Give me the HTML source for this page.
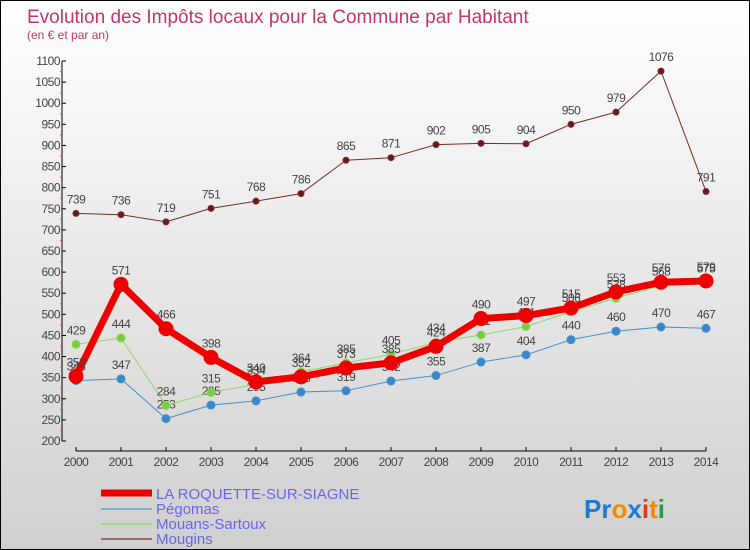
<!DOCTYPE html>
<html><head><meta charset="utf-8"><style>
body{margin:0}
#c{width:748px;height:548px;border:1px solid #000;background:linear-gradient(#ffffff,#d0d0d0);position:relative;overflow:hidden;font-family:"Liberation Sans",sans-serif}
svg text{font-family:"Liberation Sans",sans-serif}
</style></head><body>
<div id="c">
<svg id="s" width="748" height="548">
<text x="26" y="22" font-size="19" fill="#c8336b">Evolution des Impôts locaux pour la Commune par Habitant</text>
<text x="26" y="38" font-size="12" fill="#c8336b">(en € et par an)</text>
<g id="axes"></g><g id="series"></g>
<g>
<line x1="100" y1="492" x2="151" y2="492" stroke="#e00" stroke-width="7"/>
<text x="155" y="498" font-size="15" fill="#6666ee">LA ROQUETTE-SUR-SIAGNE</text>
<line x1="100" y1="508" x2="151" y2="508" stroke="#7fadd0" stroke-width="2"/>
<text x="155" y="513" font-size="15" fill="#6666ee">Pégomas</text>
<line x1="100" y1="523" x2="151" y2="523" stroke="#9ed98a" stroke-width="2"/>
<text x="155" y="528" font-size="15" fill="#6666ee">Mouans-Sartoux</text>
<line x1="100" y1="538" x2="151" y2="538" stroke="#9a6a6a" stroke-width="2"/>
<text x="155" y="543" font-size="15" fill="#6666ee">Mougins</text>
</g>
<text x="583" y="517" font-size="26" font-weight="bold"><tspan fill="#1a7ad4">Pr</tspan><tspan fill="#f08a00">o</tspan><tspan fill="#1a7ad4">x</tspan><tspan fill="#e53a1a">i</tspan><tspan fill="#f08a00">t</tspan><tspan fill="#2aa040">i</tspan></text>
</svg></div>
<script>
const years=[2000,2001,2002,2003,2004,2005,2006,2007,2008,2009,2010,2011,2012,2013,2014];
const roquette=[353,571,466,398,340,352,373,385,424,490,497,515,553,576,579];
const pegomas=[343,347,253,285,295,316,319,342,355,387,404,440,460,470,467];
const mouans=[429,444,284,315,334,364,385,405,434,451,471,506,538,568,575];
const mougins=[739,736,719,751,768,786,865,871,902,905,904,950,979,1076,791];
const yTicks=[200,250,300,350,400,450,500,550,600,650,700,750,800,850,900,950,1000,1050,1100];
const NS='http://www.w3.org/2000/svg';
const X=i=>75+i*45;
const Y=v=>440-(v-200)*380/900;
function mk(tag,attrs,parent){const e=document.createElementNS(NS,tag);for(const k in attrs)e.setAttribute(k,attrs[k]);parent.appendChild(e);return e;}
const ax=document.getElementById('axes');
let l=mk('line',{x1:61,y1:60,x2:61,y2:440,stroke:'#000'},ax);


l=mk('line',{x1:75,y1:450,x2:705,y2:450,stroke:'#000'},ax);


yTicks.forEach((v,i)=>{
 mk('line',{x1:61,y1:Y(v),x2:65,y2:Y(v),stroke:'#000'},ax);
 if(i<yTicks.length-1){mk('line',{x1:59,y1:Y(v+25),x2:61,y2:Y(v+25),stroke:'#f44'},ax);}
 const t=mk('text',{x:59,y:Y(v)+4,'font-size':12,'text-anchor':'end',fill:'#444','letter-spacing':'-0.5'},ax);
 t.textContent=v;
 
 
});
years.forEach((y,i)=>{
 mk('line',{x1:X(i),y1:446,x2:X(i),y2:450,stroke:'#000'},ax);
 const t=mk('text',{x:X(i),y:465,'font-size':12,'text-anchor':'middle',fill:'#444','letter-spacing':'-0.5'},ax);
 t.textContent=y;
 
 
});
const sg=document.getElementById('series');
function draw(name,vals,color,w,r,dot){
 const g=mk('g',{},sg);
 
 
 const p=mk('polyline',{points:vals.map((v,i)=>X(i)+','+Y(v)).join(' '),fill:'none',stroke:color,'stroke-width':w,'stroke-linejoin':'round'},g);
 
 
 vals.forEach((v,i)=>{
  const c=mk('circle',{cx:X(i),cy:Y(v),r:r,fill:dot,stroke:color,'stroke-width':1},g);
  
  
  const t=mk('text',{x:X(i),y:Y(v)-10,'font-size':12,'text-anchor':'middle',fill:'#444','letter-spacing':'-0.5'},g);
  t.textContent=v;
  
  
 });
}
draw('mougins',mougins,'#7a2a2a',1,3,'#6a1a1a');
draw('pegomas',pegomas,'#4a90c8',1,4,'#3a88cc');
draw('mouans',mouans,'#8fd46a',1,4,'#7acc3a');
draw('roquette',roquette,'#ee0000',7,7,'#ee0000');
</script>
</body></html>
